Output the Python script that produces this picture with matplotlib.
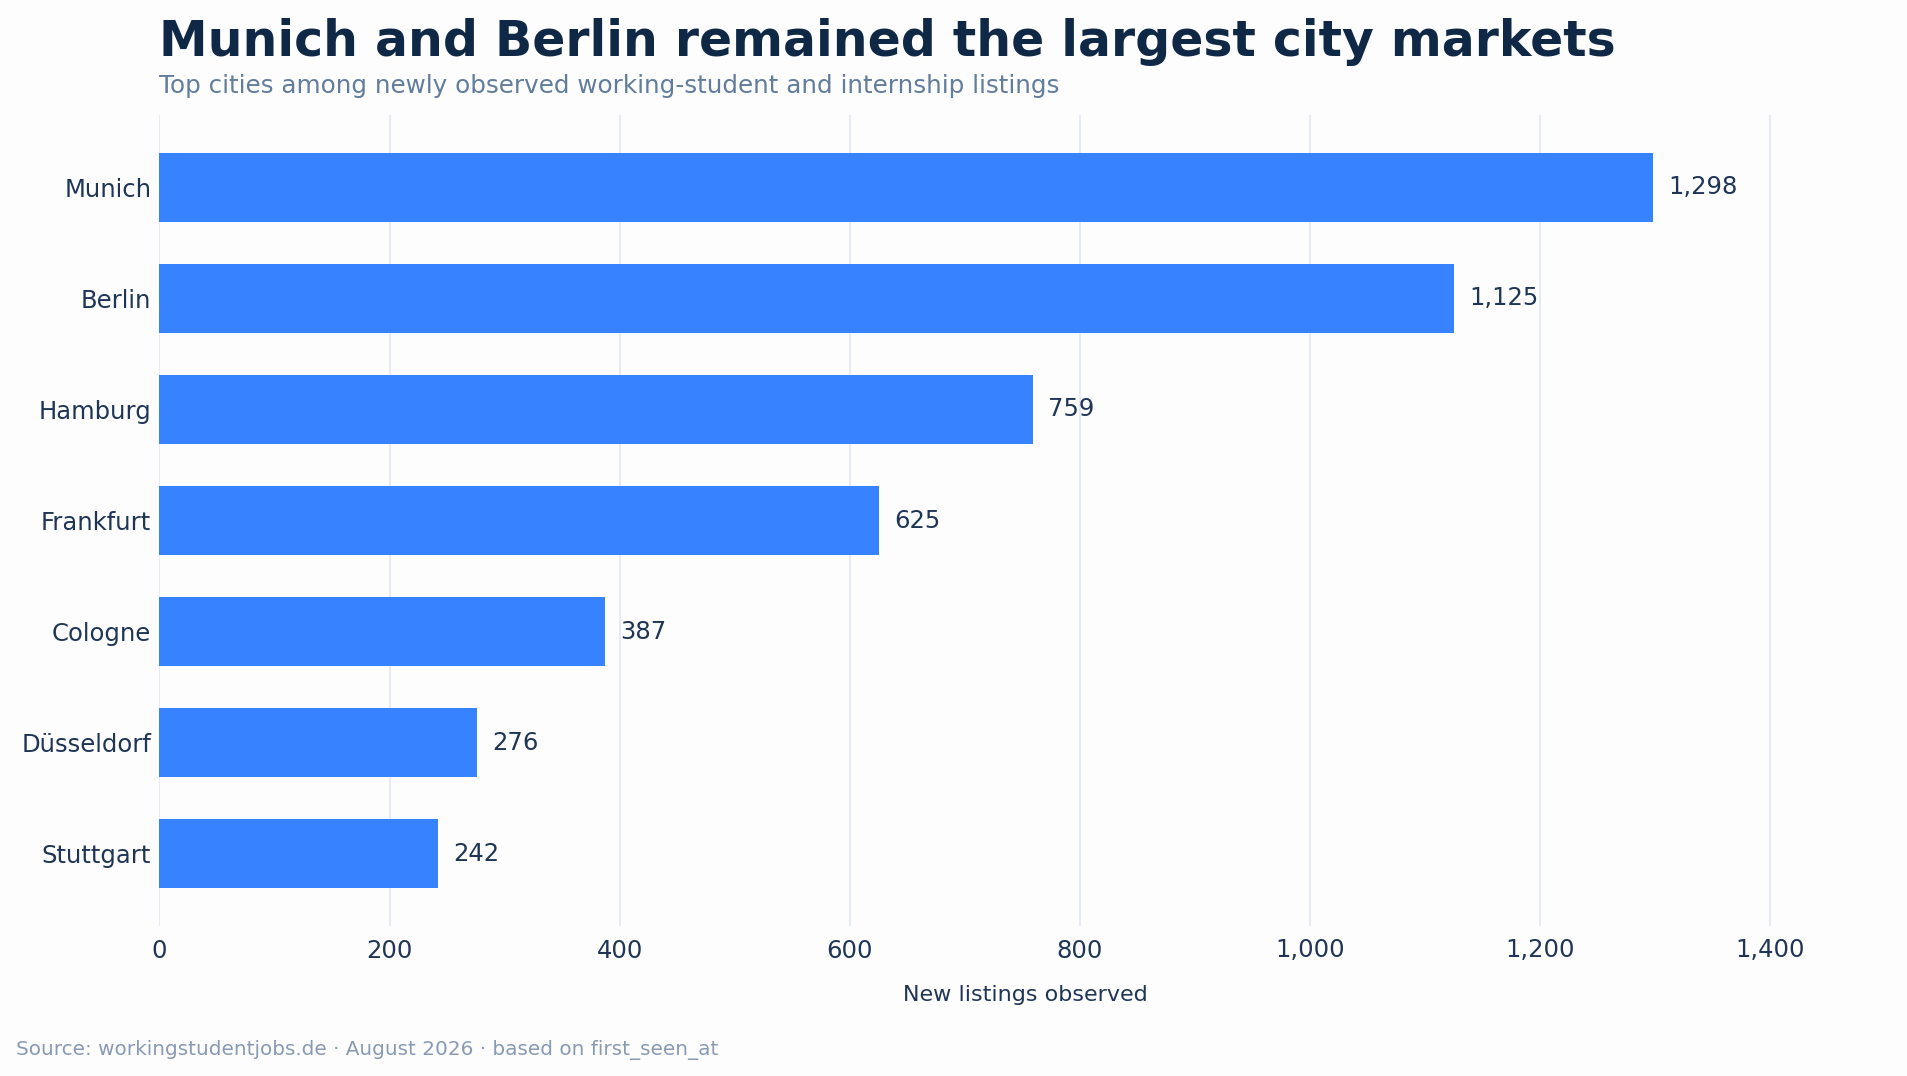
import matplotlib.pyplot as plt
from matplotlib.ticker import FuncFormatter

# Datos
cities = ['Munich', 'Berlin', 'Hamburg', 'Frankfurt', 'Cologne', 'Düsseldorf', 'Stuttgart']
listings = [1298, 1125, 759, 625, 387, 276, 242]

bar_color = '#3782ff'
text_dark = '#1e3556'
title_color = '#0f2846'

fig = plt.figure(figsize=(19.08, 10.76), dpi=100, facecolor='#fdfdfe')
ax = fig.add_axes([159.5 / 1908, 1 - 926 / 1076, (1892 - 159.5) / 1908, (926 - 115) / 1076])
ax.set_facecolor('#fdfdfe')

ax.barh(cities, listings, height=0.62, color=bar_color, zorder=3)
ax.set_ylim(6.65, -0.65)
ax.set_xlim(0, max(listings) * 1.16)
ax.set_xticks(range(0, 1401, 200))
ax.xaxis.set_major_formatter(FuncFormatter(lambda v, p: f'{int(v):,}'))

ax.grid(axis='x', color='#e3e8f2', linewidth=1.3, zorder=0)
ax.grid(axis='y', visible=False)
for s in ax.spines.values():
    s.set_visible(False)
ax.tick_params(axis='both', length=0, labelcolor=text_dark)
ax.tick_params(axis='y', labelsize=17.5, pad=6)
ax.tick_params(axis='x', labelsize=17.5, pad=9)

for i, v in enumerate(listings):
    ax.annotate(f'{v:,}', (v, i), xytext=(11, 0), textcoords='offset points',
                va='center', ha='left', fontsize=17.5, color=text_dark)

ax.set_xlabel('New listings observed', fontsize=16, color=text_dark, labelpad=16.5)

fig.text(159.5 / 1908, 1 - 56 / 1076, 'Munich and Berlin remained the largest city markets',
         fontsize=35.2, fontweight='bold', color=title_color, ha='left', va='baseline')
fig.text(159.5 / 1908, 1 - 92.5 / 1076, 'Top cities among newly observed working-student and internship listings',
         fontsize=17.7, color='#627d9c', ha='left', va='baseline')
fig.text(16 / 1908, 1 - 1055 / 1076, 'Source: workingstudentjobs.de · August 2026 · based on first_seen_at',
         fontsize=14.4, color='#8899b4', ha='left', va='baseline')

fig.savefig('out.png', dpi=100, facecolor=fig.get_facecolor())
